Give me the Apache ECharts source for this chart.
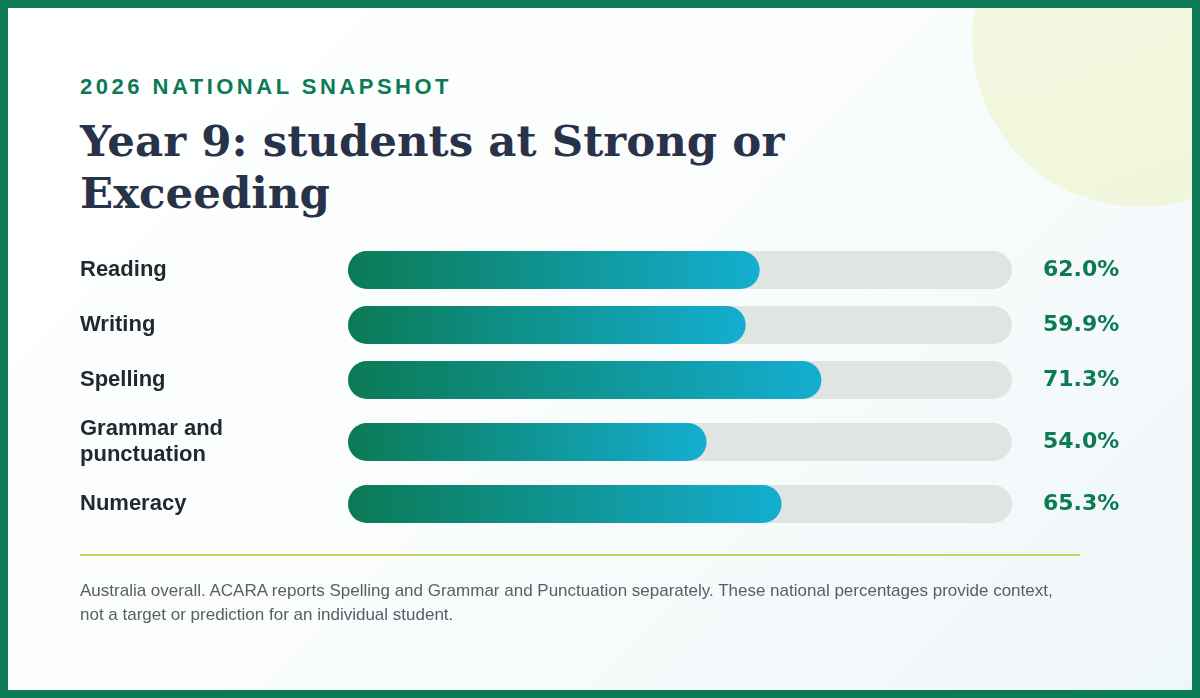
<!DOCTYPE html>
<html lang="en">
<head>
    <meta charset="UTF-8">
    <title>Year 9: students at Strong or Exceeding</title>
    <style>
        html, body { margin: 0; padding: 0; }
        #card {
            position: relative;
            width: 1200px;
            height: 698px;
            box-sizing: border-box;
            border: 8px solid #0b7a55;
            overflow: hidden;
            background: linear-gradient(135deg, #ffffff 0%, #fbfdfd 45%, #eff6f9 100%);
            font-family: "Liberation Sans", Arial, sans-serif;
        }
        #blob {
            position: absolute;
            left: 964px; top: -137px;
            width: 336px; height: 336px;
            border-radius: 50%;
            background: linear-gradient(160deg, #f4f9e2, #eff6da);
        }
        #kicker {
            position: absolute;
            left: 72px; top: 68px;
            font-size: 22px; line-height: 22px;
            font-weight: bold;
            letter-spacing: 3.5px;
            color: #0b7a55;
            white-space: nowrap;
        }
        #headline {
            position: absolute;
            left: 72px; top: 107px;
            font-family: "DejaVu Serif", Georgia, serif;
            font-weight: bold;
            font-size: 43.5px; line-height: 52px;
            color: #28334a;
            white-space: nowrap;
        }
        #rule {
            position: absolute;
            left: 72px; top: 546px;
            width: 1000px; height: 2px;
            background: #c4d65a;
        }
        #note {
            position: absolute;
            left: 72px; top: 571px;
            font-size: 17px; line-height: 24px;
            color: #575f63;
            white-space: nowrap;
        }
        #chart {
            position: absolute;
            left: -8px; top: -8px;
            width: 1200px; height: 698px;
        }
    </style>
</head>
<body>
<div id="card">
    <div id="blob"></div>
    <div id="kicker">2026 NATIONAL SNAPSHOT</div>
    <div id="headline">Year 9: students at Strong or<br>Exceeding</div>
    <div id="chart"></div>
    <div id="rule"></div>
    <div id="note">Australia overall. ACARA reports Spelling and Grammar and Punctuation separately. These national percentages provide context,<br>not a target or prediction for an individual student.</div>
</div>
<script src="https://cdn.jsdelivr.net/npm/echarts@6/dist/echarts.min.js"></script>
<script>
    // data
    var domains = ['Reading', 'Writing', 'Spelling', 'Grammar and\npunctuation', 'Numeracy'];
    var pctStrong = [62.0, 59.9, 71.3, 54.0, 65.3];

    // row layout (page px): centre of each bar
    var rowCentre = [270, 325, 380, 442, 504];
    var barH = 38;

    var chart = echarts.init(document.getElementById('chart'));

    var grids = [], xAxes = [], yAxes = [], series = [];
    for (var i = 0; i < domains.length; i++) {
        grids.push({left: 348, right: 188, top: rowCentre[i] - barH / 2, height: barH});
        xAxes.push({type: 'value', gridIndex: i, min: 0, max: 100, show: false});
        yAxes.push({
            type: 'category', gridIndex: i, data: [domains[i]],
            axisLine: {show: false}, axisTick: {show: false},
            axisLabel: {
                margin: 268, align: 'left',
                fontFamily: 'Liberation Sans', fontWeight: 'bold', fontSize: 22,
                lineHeight: 26, color: '#1f2a30'
            }
        });
        yAxes.push({
            type: 'category', gridIndex: i, position: 'right', data: [pctStrong[i].toFixed(1) + '%'],
            axisLine: {show: false}, axisTick: {show: false},
            axisLabel: {
                margin: 31, align: 'left',
                fontFamily: 'DejaVu Sans', fontWeight: 'bold', fontSize: 22,
                color: '#0b7a55'
            }
        });
        series.push({
            type: 'bar',
            xAxisIndex: i,
            yAxisIndex: i * 2,
            data: [pctStrong[i]],
            barWidth: barH,
            showBackground: true,
            backgroundStyle: {color: '#dfe6e2', borderRadius: barH / 2},
            itemStyle: {
                borderRadius: barH / 2,
                color: new echarts.graphic.LinearGradient(0, 0, 1, 0, [
                    {offset: 0, color: '#0b7a55'},
                    {offset: 1, color: '#14aed1'}
                ])
            },
            animation: false
        });
    }

    chart.setOption({
        backgroundColor: 'rgba(0,0,0,0)',
        grid: grids,
        xAxis: xAxes,
        yAxis: yAxes,
        series: series
    });
</script>
</body>
</html>
